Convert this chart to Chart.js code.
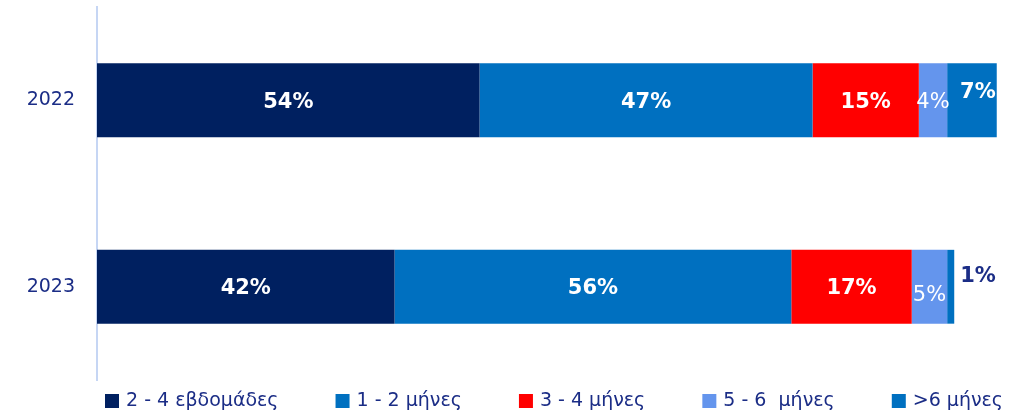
<!DOCTYPE html>
<html lang="el">
<head>
  <meta charset="UTF-8">
  <title>Διάρκεια</title>
  <script src="https://cdn.jsdelivr.net/npm/chart.js"></script>
  <style>
    body {
      margin: 0;
      padding: 0;
      background: #ffffff;
      overflow: hidden;
    }
    canvas {
      display: block;
    }
  </style>
</head>
<body>
  <canvas id="durationChart" width="1030" height="417"></canvas>

  <script>
    // Data
    const years = ['2022', '2023'];
    const seriesNames = ['2 - 4 εβδομάδες', '1 - 2 μήνες', '3 - 4 μήνες', '5 - 6  μήνες', '>6 μήνες'];
    const weeks2to4 = [54, 42];
    const months1to2 = [47, 56];
    const months3to4 = [15, 17];
    const months5to6 = [4, 5];
    const monthsOver6 = [7, 1];

    const seriesValues = [weeks2to4, months1to2, months3to4, months5to6, monthsOver6];
    const seriesColors = ['#002060', '#0070C0', '#FF0000', '#6495ED', '#0070C0'];

    const textColor = '#1b2d86';
    const fontFamily = '"DejaVu Sans", Verdana, sans-serif';

    // Value labels drawn on each bar segment
    const valueLabels = {
      id: 'valueLabels',
      afterDatasetsDraw(chart) {
        const ctx = chart.ctx;
        ctx.save();
        ctx.textBaseline = 'middle';
        chart.data.datasets.forEach((ds, di) => {
          const meta = chart.getDatasetMeta(di);
          meta.data.forEach((bar, i) => {
            const v = ds.data[i];
            let x = (bar.x + bar.base) / 2;
            let y = bar.y + 2;
            let weight = 'bold';
            let color = '#ffffff';
            let align = 'center';
            if (di === 3) {
              weight = 'normal';
              if (i === 1) y += 7;
            }
            if (di === 4 && i === 0) { x += 6; y -= 10; }
            if (di === 4 && i === 1) {
              x = bar.x + 6;
              y -= 12;
              align = 'left';
              color = textColor;
            }
            ctx.font = weight + ' 21px ' + fontFamily;
            ctx.textAlign = align;
            ctx.fillStyle = color;
            ctx.fillText(v + '%', x, y);
          });
        });
        ctx.restore();
      }
    };

    // Legend row along the bottom, items spread across the width
    const bottomLegend = {
      id: 'bottomLegend',
      afterDraw(chart) {
        const ctx = chart.ctx;
        const left = 105, right = 1003, y = 401, box = 14, gap = 7;
        ctx.save();
        ctx.font = '19px ' + fontFamily;
        ctx.textBaseline = 'middle';
        const widths = chart.data.datasets.map(ds => box + gap + ctx.measureText(ds.label).width);
        const total = widths.reduce((a, b) => a + b, 0);
        const spacing = (right - left - total) / (widths.length - 1);
        let x = left;
        chart.data.datasets.forEach((ds, i) => {
          ctx.fillStyle = ds.backgroundColor;
          ctx.fillRect(x, y - box / 2, box, box);
          ctx.fillStyle = textColor;
          ctx.fillText(ds.label, x + box + gap, y);
          x += widths[i] + spacing;
        });
        ctx.restore();
      }
    };

    const ctx = document.getElementById('durationChart').getContext('2d');
    new Chart(ctx, {
      type: 'bar',
      data: {
        labels: years,
        datasets: seriesNames.map((name, i) => ({
          label: name,
          data: seriesValues[i],
          backgroundColor: seriesColors[i],
          borderWidth: 0,
          barPercentage: 0.396,
          categoryPercentage: 1
        }))
      },
      options: {
        indexAxis: 'y',
        responsive: false,
        animation: false,
        layout: {
          padding: { top: 7, right: 12, left: 0, bottom: 37 }
        },
        scales: {
          x: {
            stacked: true,
            min: 0,
            max: 130,
            display: false
          },
          y: {
            stacked: true,
            grid: { display: false, drawTicks: false },
            border: { color: '#c6d6f4', width: 2 },
            ticks: {
              color: textColor,
              font: { family: fontFamily, size: 19 },
              padding: 22
            },
            afterFit(scale) {
              scale.width = 97;
              scale.paddingTop = 0;
              scale.paddingBottom = 0;
            }
          }
        },
        plugins: {
          legend: { display: false },
          tooltip: { enabled: false }
        }
      },
      plugins: [valueLabels, bottomLegend]
    });
  </script>
</body>
</html>
